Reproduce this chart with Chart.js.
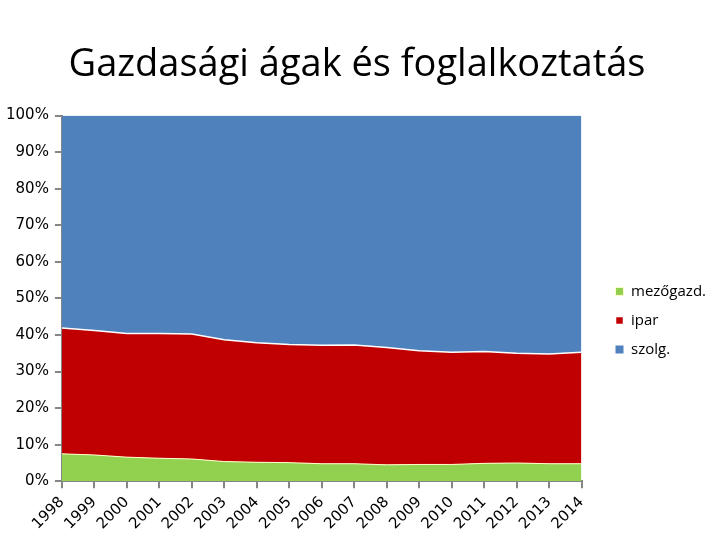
<!DOCTYPE html>
<html>
<head>
<meta charset="utf-8">
<script src="https://cdn.jsdelivr.net/npm/chart.js@4/dist/chart.umd.min.js"></script>
<style>
  html, body { margin: 0; padding: 0; background: #fff; }
  #wrap { width: 720px; height: 540px; }
</style>
</head>
<body>
<div id="wrap"><canvas id="chart" width="720" height="540"></canvas></div>
<script>
// years on the x axis
const years = ["1998", "1999", "2000", "2001", "2002", "2003", "2004", "2005", "2006",
    "2007", "2008", "2009", "2010", "2011", "2012", "2013", "2014"];

// shares of employment, percent
const mezogazd = [7.5, 7.2, 6.6, 6.3, 6.1, 5.4, 5.2, 5.1, 4.8, 4.8, 4.5, 4.6, 4.6, 4.9, 5.0, 4.8, 4.8];
const ipar = [34.4, 34.0, 33.8, 34.1, 34.2, 33.3, 32.7, 32.3, 32.4, 32.5, 32.1, 31.1, 30.7, 30.6, 30.0, 30.0, 30.5];
const szolg = [58.1, 58.8, 59.6, 59.6, 59.7, 61.3, 62.1, 62.6, 62.8, 62.7, 63.4, 64.3, 64.7, 64.5, 65.0, 65.2, 64.7];

const seriesNames = ["mezőgazd.", "ipar", "szolg."];
const yTicks = [0, 10, 20, 30, 40, 50, 60, 70, 80, 90, 100];

const axisGray = "#868686";

// legend: leave a wider gap to the plot and sit it a bit lower than centre
const LEGEND_EXTRA_W = 18;
const LEGEND_NUDGE_X = 20;
const LEGEND_DROP = 22;
const legendShift = {
    id: "legendShift",
    afterInit(chart) {
        const lg = chart.legend;
        if (!lg || lg._patched) return;
        const fit = lg.fit;
        lg.fit = function () {
            fit.call(this);
            this.width += LEGEND_EXTRA_W;
        };
        lg._patched = true;
    },
    afterLayout(chart) {
        const lg = chart.legend;
        if (!lg) return;
        lg.left += LEGEND_NUDGE_X;
        lg.top += LEGEND_DROP;
        lg.bottom += LEGEND_DROP;
    },
};

const chartData = {
    labels: years,
    datasets: [
        {
            label: seriesNames[0],
            data: mezogazd,
            backgroundColor: "#92D050",
            borderColor: "#FFFFCC",
            borderWidth: 1,
            fill: "origin",
        },
        {
            label: seriesNames[1],
            data: ipar,
            backgroundColor: "#C00000",
            borderColor: "#FFFFFF",
            borderWidth: 1.5,
            fill: "-1",
        },
        {
            label: seriesNames[2],
            data: szolg,
            backgroundColor: "#4F81BD",
            borderColor: "#4F81BD",
            borderWidth: 0,
            fill: "-1",
        },
    ],
};

const config = {
    type: "line",
    data: chartData,
    options: {
        responsive: false,
        animation: false,
        elements: {
            point: { radius: 0 },
            line: { tension: 0 },
        },
        layout: {
            padding: { left: 0, right: 6, top: 0, bottom: 2 },
        },
        scales: {
            x: {
                offset: false,
                grid: {
                    display: true,
                    drawOnChartArea: false,
                    drawTicks: true,
                    tickLength: 7,
                    color: axisGray,
                    lineWidth: 2,
                    offset: false,
                },
                border: { display: true, color: axisGray, width: 2 },
                ticks: {
                    minRotation: 45,
                    maxRotation: 45,
                    autoSkip: false,
                    padding: 5,
                    color: "#000",
                    font: { family: "DejaVu Sans", size: 15 },
                },
            },
            y: {
                stacked: true,
                min: 0,
                max: 100,
                afterBuildTicks(scale) {
                    scale.ticks = yTicks.map((v) => ({ value: v }));
                },
                grid: {
                    display: true,
                    drawOnChartArea: false,
                    drawTicks: true,
                    tickLength: 7,
                    color: axisGray,
                    lineWidth: 2,
                },
                border: { display: true, color: axisGray, width: 2 },
                ticks: {
                    padding: 6,
                    color: "#000",
                    font: { family: "DejaVu Sans", size: 15 },
                    callback: (v) => v + "%",
                },
            },
        },
        plugins: {
            title: {
                display: true,
                text: "Gazdasági ágak és foglalkoztatás",
                color: "#000",
                font: { family: "Open Sans", size: 38, weight: "normal" },
                padding: { top: 42, bottom: 28 },
            },
            legend: {
                position: "right",
                align: "center",
                fullSize: false,
                labels: {
                    boxWidth: 8,
                    boxHeight: 8,
                    padding: 14,
                    color: "#000",
                    font: { family: "Open Sans", size: 15 },
                },
            },
            tooltip: { enabled: false },
        },
    },
    plugins: [legendShift],
};

const chart = new Chart(document.getElementById("chart"), config);
</script>
</body>
</html>
